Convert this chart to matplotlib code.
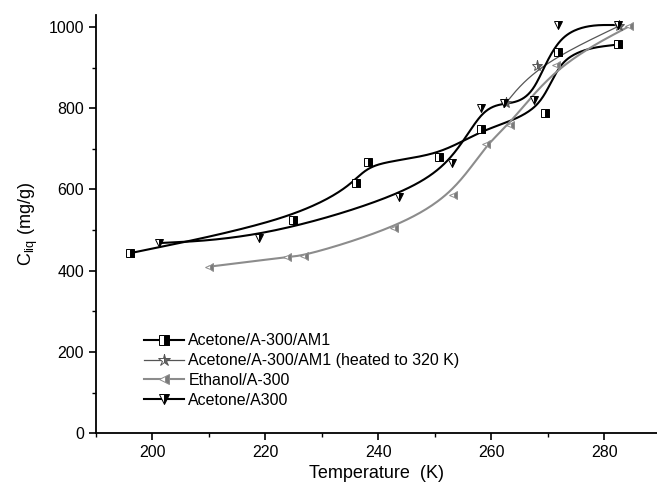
import numpy as np
import matplotlib
matplotlib.use("Agg")
import matplotlib.pyplot as plt
from matplotlib.ticker import MultipleLocator

plt.rcParams['font.family'] = ['Liberation Sans', 'DejaVu Sans']

# data
t_am1 = [196.0, 224.8, 236.0, 238.1, 250.8, 258.2, 269.4, 271.7, 282.4]
c_am1 = [443, 525, 615, 667, 681, 750, 789, 939, 957]

t_heat = [262.5, 268.0, 282.5]
c_heat = [812, 905, 1002]

t_eth = [210.1, 223.9, 226.9, 242.8, 253.2, 259.1, 263.2, 271.4, 284.4]
c_eth = [410, 434, 436, 504, 586, 713, 759, 906, 1002]

t_a300 = [201.2, 218.9, 243.7, 253.1, 258.2, 262.3, 267.6, 271.7, 282.4]
c_a300 = [468, 480, 582, 665, 800, 812, 820, 1005, 1005]

labels = ["Acetone/A-300/AM1", "Acetone/A-300/AM1 (heated to 320 K)",
          "Ethanol/A-300", "Acetone/A300"]


def bspline(x, y, n=40):
    # uniform cubic B-spline using the points as control points (ends clamped)
    p = np.column_stack([x, y]).astype(float)
    if len(p) < 3:
        return p[:, 0], p[:, 1]
    p = np.vstack([p[0], p[0], p, p[-1], p[-1]])
    out = []
    s = np.linspace(0, 1, n)
    b0 = (1 - s) ** 3 / 6
    b1 = (3 * s**3 - 6 * s**2 + 4) / 6
    b2 = (-3 * s**3 + 3 * s**2 + 3 * s + 1) / 6
    b3 = s**3 / 6
    for i in range(len(p) - 3):
        seg = (np.outer(b0, p[i]) + np.outer(b1, p[i + 1]) +
               np.outer(b2, p[i + 2]) + np.outer(b3, p[i + 3]))
        out.append(seg)
    out = np.vstack(out)
    return out[:, 0], out[:, 1]


fig = plt.figure(figsize=(6.57, 4.95), dpi=100)
ax = fig.add_axes([0.146, 0.125, 0.854, 0.845])

series = [
    (t_am1, c_am1, 'black', 's', 'black', 'black', 1.5),
    (t_heat, c_heat, '#555555', '*', '#666666', '#555555', 0.9),
    (t_eth, c_eth, '#8c8c8c', '<', '#7a7a7a', '#8c8c8c', 1.5),
    (t_a300, c_a300, 'black', 'v', 'black', 'black', 1.5),
]

for (t, c, col, mk, fc, ec, lw), lab in zip(series, labels):
    xs, ys = bspline(t, c)
    ax.plot(xs, ys, color=col, lw=lw, zorder=2)
    ms = 8 if mk == '*' else 5.5
    ax.plot(t, c, linestyle='none', marker=mk, ms=ms, fillstyle='right',
            markerfacecolor=fc, markerfacecoloralt='white',
            markeredgecolor=ec, markeredgewidth=0.7, zorder=3)
    # legend proxy
    ax.plot([], [], color=col, lw=lw, marker=mk, ms=ms + 1, fillstyle='right',
            markerfacecolor=fc, markerfacecoloralt='white',
            markeredgecolor=ec, markeredgewidth=0.7, label=lab)

ax.set_xlim(190, 289.3)
ax.set_ylim(0, 1030)
ax.xaxis.set_major_locator(MultipleLocator(20))
ax.xaxis.set_minor_locator(MultipleLocator(10))
ax.yaxis.set_major_locator(MultipleLocator(200))
ax.yaxis.set_minor_locator(MultipleLocator(100))
ax.tick_params(which='major', length=5, width=1.2, labelsize=11.5, direction='out')
ax.tick_params(which='minor', length=3, width=1.0, direction='out')

for sp in ['top', 'right']:
    ax.spines[sp].set_visible(False)
for sp in ['left', 'bottom']:
    ax.spines[sp].set_linewidth(1.3)

ax.set_xlabel("Temperature  (K)", fontsize=13, labelpad=4)
ax.set_ylabel("C$_{\\mathregular{liq}}$ (mg/g)", fontsize=13, labelpad=6)

leg = ax.legend(loc='lower left', bbox_to_anchor=(0.065, 0.034), frameon=False,
                fontsize=11.5, handlelength=2.5, handletextpad=0.3,
                labelspacing=0.3, borderpad=0.2)

fig.savefig("out.png", dpi=100)
